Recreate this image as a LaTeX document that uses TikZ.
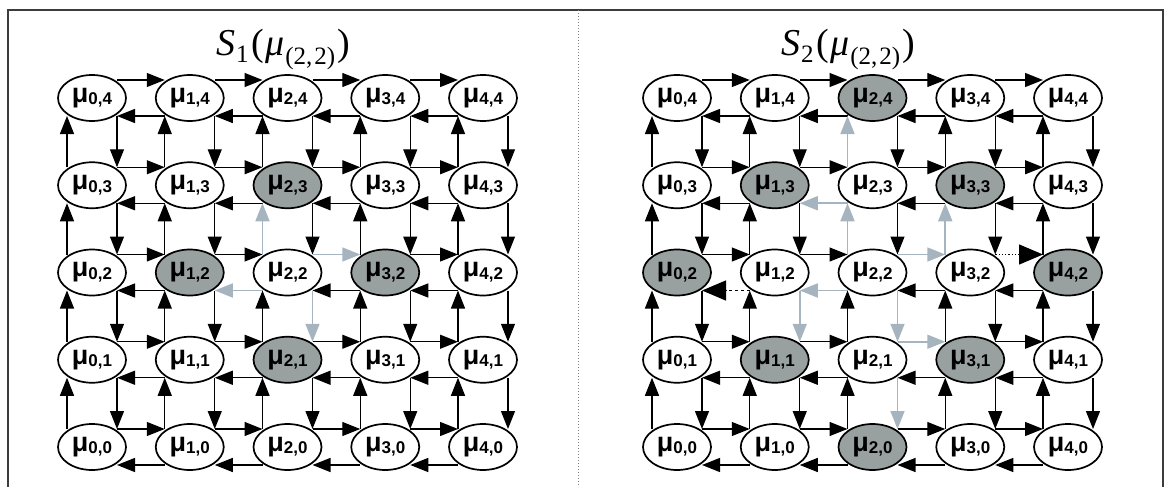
\documentclass[tikz,border=0pt]{standalone}
\usepackage{fontspec}
\setmainfont{Liberation Sans}
\newfontfamily\serifx{Liberation Serif}
\usetikzlibrary{arrows.meta,shapes.geometric}
\definecolor{hl}{RGB}{152,160,160}
\definecolor{pathc}{RGB}{165,180,190}
\definecolor{framec}{RGB}{60,60,60}
\newcommand{\mulab}[2]{{\fontsize{27}{27}\selectfont\bfseries μ}{\fontsize{17}{17}\selectfont\bfseries\raisebox{-2.5pt}{#1,#2}}}
\newcommand{\ttl}[1]{\serifx\fontsize{38}{38}\selectfont\itshape S\upshape\kern1pt\raisebox{-7pt}{\fontsize{25}{25}\selectfont #1}\kern3pt(\kern1pt\itshape μ\upshape\kern1pt\raisebox{-9pt}{\fontsize{25}{25}\selectfont(2,\kern2pt2)}\kern2pt)}
\tikzset{
  st/.style={ellipse, draw, line width=1.7pt, fill=white, minimum width=68pt, minimum height=46pt, inner sep=0pt},
  ar/.style={draw=black, line width=1.3pt, -{Triangle[length=18pt,width=14pt]}},
  gar/.style={draw=pathc, line width=1.7pt},
  bigdash/.style={dashed, -{Triangle[length=24pt,width=20pt]}},
  bigdot/.style={dotted, -{Triangle[length=24pt,width=20pt]}},
  nL23/.style={fill=hl}, nL12/.style={fill=hl}, nL32/.style={fill=hl}, nL21/.style={fill=hl},
  nR24/.style={fill=hl}, nR13/.style={fill=hl}, nR33/.style={fill=hl}, nR02/.style={fill=hl},
  nR42/.style={fill=hl}, nR11/.style={fill=hl}, nR31/.style={fill=hl}, nR20/.style={fill=hl},
  aL22-U/.style={gar}, aL22-L/.style={gar}, aL22-R/.style={gar}, aL22-D/.style={gar},
  aR22-U/.style={gar}, aR23-U/.style={gar}, aR23-L/.style={gar}, aR22-R/.style={gar},
  aR32-U/.style={gar}, aR22-L/.style={gar}, aR12-D/.style={gar}, aR22-D/.style={gar},
  aR21-D/.style={gar}, aR21-R/.style={gar},
  aR12-L/.style={bigdash}, aR32-R/.style={bigdot},
}
\begin{document}
\begin{tikzpicture}[x=1pt,y=-1pt]
\useasboundingbox (0,0) rectangle (1169,487);
% frame
\draw[framec, line width=1.5pt] (8,487) -- (8,10) -- (1163,10) -- (1163,487);
\draw[gray, dotted, line width=1pt] (578,10) -- (578,487);
% titles
\node[anchor=base] (t1) at (283,56) {\ttl{1}};
\node[anchor=base] (t2) at (848,56) {\ttl{2}};
% nodes
\foreach \p/\ox in {L/92, R/677} {
  \foreach \i in {0,...,4} {
    \foreach \j in {0,...,4} {
      \node[st, n\p\i\j/.try] (\p\i\j) at ({\ox+97.75*\i},{98+87.25*(4-\j)}) {\mulab{\i}{\j}};
    }
  }
}
% horizontal arrows
\foreach \p in {L,R} {
  \foreach \i [evaluate=\i as \ii using {int(\i+1)}] in {0,...,3} {
    \foreach \j in {0,...,4} {
      \draw[ar, a\p\i\j-R/.try] ([shift={(25,-18)}]\p\i\j.center) -- ([shift={(-25,-18)}]\p\ii\j.center);
      \draw[ar, a\p\ii\j-L/.try] ([shift={(-25,18)}]\p\ii\j.center) -- ([shift={(25,18)}]\p\i\j.center);
    }
  }
}
% vertical arrows
\foreach \p in {L,R} {
  \foreach \i in {0,...,4} {
    \foreach \j [evaluate=\j as \jj using {int(\j+1)}] in {0,...,3} {
      \draw[ar, a\p\i\j-U/.try] ([shift={(-25,-18)}]\p\i\j.center) -- ([shift={(-25,18)}]\p\i\jj.center);
      \draw[ar, a\p\i\jj-D/.try] ([shift={(25,18)}]\p\i\jj.center) -- ([shift={(25,-18)}]\p\i\j.center);
    }
  }
}
\end{tikzpicture}
\end{document}
